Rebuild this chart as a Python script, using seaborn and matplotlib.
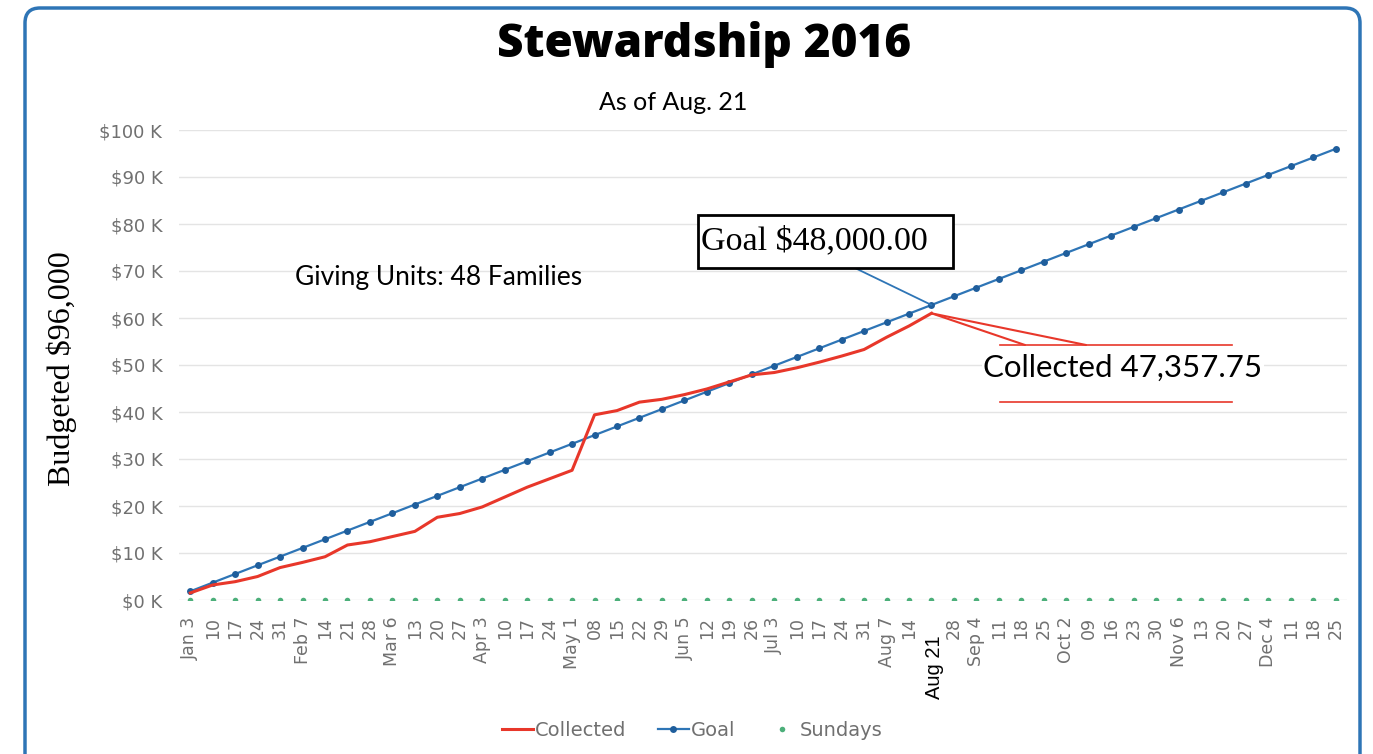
import matplotlib.pyplot as plt
import matplotlib.patches as mpatches
from matplotlib.lines import Line2D
import seaborn as sns
import pandas as pd

# Sundays of 2016 (tick labels as shown on the chart)
week_labels = ["Jan 3", "10", "17", "24", "31",
               "Feb 7", "14", "21", "28",
               "Mar 6", "13", "20", "27",
               "Apr 3", "10", "17", "24",
               "May 1", "08", "15", "22", "29",
               "Jun 5", "12", "19", "26",
               "Jul 3", "10", "17", "24", "31",
               "Aug 7", "14", "21", "28",
               "Sep 4", "11", "18", "25",
               "Oct 2", "09", "16", "23", "30",
               "Nov 6", "13", "20", "27",
               "Dec 4", "11", "18", "25"]

# collected to date (up to Aug 21)
collected = [1500, 3200, 3900, 5000, 6900, 8000, 9200, 11700, 12400, 13500,
             14600, 17600, 18400, 19800, 21900, 24000, 25800, 27600, 39400, 40300,
             42100, 42700, 43700, 44900, 46400, 47900, 48400, 49400, 50600, 51900,
             53300, 55900, 58300, 61000]

# weekly goal line ($96,000 over 52 weeks)
goal = [1846, 3692, 5538, 7385, 9231, 11077, 12923, 14769, 16615, 18462,
        20308, 22154, 24000, 25846, 27692, 29538, 31385, 33231, 35077, 36923,
        38769, 40615, 42462, 44308, 46154, 48000, 49846, 51692, 53538, 55385,
        57231, 59077, 60923, 62769, 64615, 66462, 68308, 70154, 72000, 73846,
        75692, 77538, 79385, 81231, 83077, 84923, 86769, 88615, 90462, 92308,
        94154, 96000]

sundays = [0] * len(week_labels)

y_ticks = [0, 10000, 20000, 30000, 40000, 50000, 60000, 70000, 80000, 90000, 100000]

red = "#E8372A"
blue = "#2E75B6"
dot_blue = "#1F5E9C"
green = "#4CAF7A"
gray = "#707070"

W, H = 1373, 754
fig = plt.figure(figsize=(W / 100, H / 100), dpi=100)
ax = fig.add_axes([179 / W, 154 / H, 1168 / W, 470 / H])

df_goal = pd.DataFrame({"week": range(len(goal)), "value": goal})
df_coll = pd.DataFrame({"week": range(len(collected)), "value": collected})
df_sun = pd.DataFrame({"week": range(len(sundays)), "value": sundays})

sns.lineplot(data=df_goal, x="week", y="value", ax=ax, color=blue, lw=1.6,
             marker="o", markersize=5, markeredgewidth=0, markerfacecolor=dot_blue,
             zorder=3)
sns.lineplot(data=df_coll, x="week", y="value", ax=ax, color=red, lw=2.2, zorder=4)
sns.scatterplot(data=df_sun, x="week", y="value", ax=ax, color=green, s=16,
                linewidth=0, zorder=5)

ax.set_xlim(-0.5, len(week_labels) - 0.5)
ax.set_ylim(0, 100000)
ax.set_yticks(y_ticks)
ax.set_yticklabels([f"${v // 1000} K" for v in y_ticks], color=gray, fontsize=13,
                   family="DejaVu Sans")
ax.set_xticks(range(len(week_labels)))
ax.set_xticklabels(week_labels, rotation=90, color=gray, fontsize=12.5,
                   family="DejaVu Sans")
ax.tick_params(axis="x", length=0, pad=12)
ax.tick_params(axis="y", length=0, pad=12)
ax.set_xlabel("")
ax.set_ylabel("")
ax.grid(axis="y", color="#E4E4E4", lw=1)
ax.set_axisbelow(True)
for s in ax.spines.values():
    s.set_visible(False)

# the Aug 21 tick is covered by its own callout label in the original
last = len(collected) - 1
ax.get_xticklabels()[last].set_visible(False)

# titles and side text
fig.text(704 / W, 1 - 45 / H, "Stewardship 2016", ha="center", va="center",
         fontsize=33, fontweight="heavy", family="Open Sans")
fig.text(673 / W, 1 - 103 / H, "As of Aug. 21", ha="center", va="center",
         fontsize=18, family="Lato")
fig.text(439 / W, 1 - 277 / H, "Giving Units: 48 Families", ha="center", va="center",
         fontsize=19, family="Lato")
fig.text(62 / W, 1 - 369 / H, "Budgeted $96,000", ha="center", va="center",
         rotation=90, fontsize=23, family="Liberation Serif")

# Aug 21 marker label
fig.text(934 / W, 1 - 699 / H, "Aug 21", ha="center", va="bottom", rotation=90,
         fontsize=14.5, family="Liberation Sans",
         bbox=dict(facecolor="white", edgecolor="none", pad=2))

# goal callout
ax.annotate("", xy=(last, goal[last]), xycoords="data",
            xytext=(855 / W, 1 - 268 / H), textcoords="figure fraction",
            arrowprops=dict(arrowstyle="-", color=blue, lw=1.3, shrinkA=0, shrinkB=0))
fig.add_artist(mpatches.Rectangle((698 / W, 1 - 268 / H), 255 / W, 53 / H,
                                  transform=fig.transFigure, facecolor="white",
                                  edgecolor="black", lw=2, zorder=5))
fig.text(701 / W, 1 - 241 / H, "Goal $48,000.00", ha="left", va="center",
         fontsize=24.5, family="Liberation Serif", zorder=6)

# collected callout
for xt in (1025, 1086):
    ax.annotate("", xy=(last, collected[last]), xycoords="data",
                xytext=(xt / W, 1 - 345 / H), textcoords="figure fraction",
                arrowprops=dict(arrowstyle="-", color=red, lw=1.5, shrinkA=0, shrinkB=0))
for yl in (345, 402):
    fig.add_artist(Line2D([1000 / W, 1232 / W], [1 - yl / H, 1 - yl / H],
                          color=red, lw=1.2))
fig.text(1123 / W, 1 - 368 / H, "Collected 47,357.75", ha="center", va="center",
         fontsize=22.5, family="Lato",
         bbox=dict(facecolor="white", edgecolor="none", pad=1))

# legend
handles = [Line2D([], [], color=red, lw=2.2),
           Line2D([], [], color=blue, lw=1.6, marker="o", markersize=5,
                  markeredgewidth=0, markerfacecolor=dot_blue),
           Line2D([], [], color=green, lw=0, marker="o", markersize=4, markeredgewidth=0)]
leg = fig.legend(handles, ["Collected", "Goal", "Sundays"], loc="center",
                 bbox_to_anchor=(692 / W, 1 - 730 / H), ncol=3, frameon=False,
                 handlelength=1.6, handletextpad=0.1, columnspacing=1.6,
                 prop={"family": "DejaVu Sans", "size": 14})
for t in leg.get_texts():
    t.set_color(gray)

# rounded blue frame
frame = mpatches.FancyBboxPatch((0.25, -0.3), 13.35, 7.76,
                                boxstyle="round,pad=0,rounding_size=0.15",
                                transform=fig.dpi_scale_trans, facecolor="none",
                                edgecolor=blue, lw=2.5)
fig.add_artist(frame)

fig.savefig("out.png", dpi=100)
